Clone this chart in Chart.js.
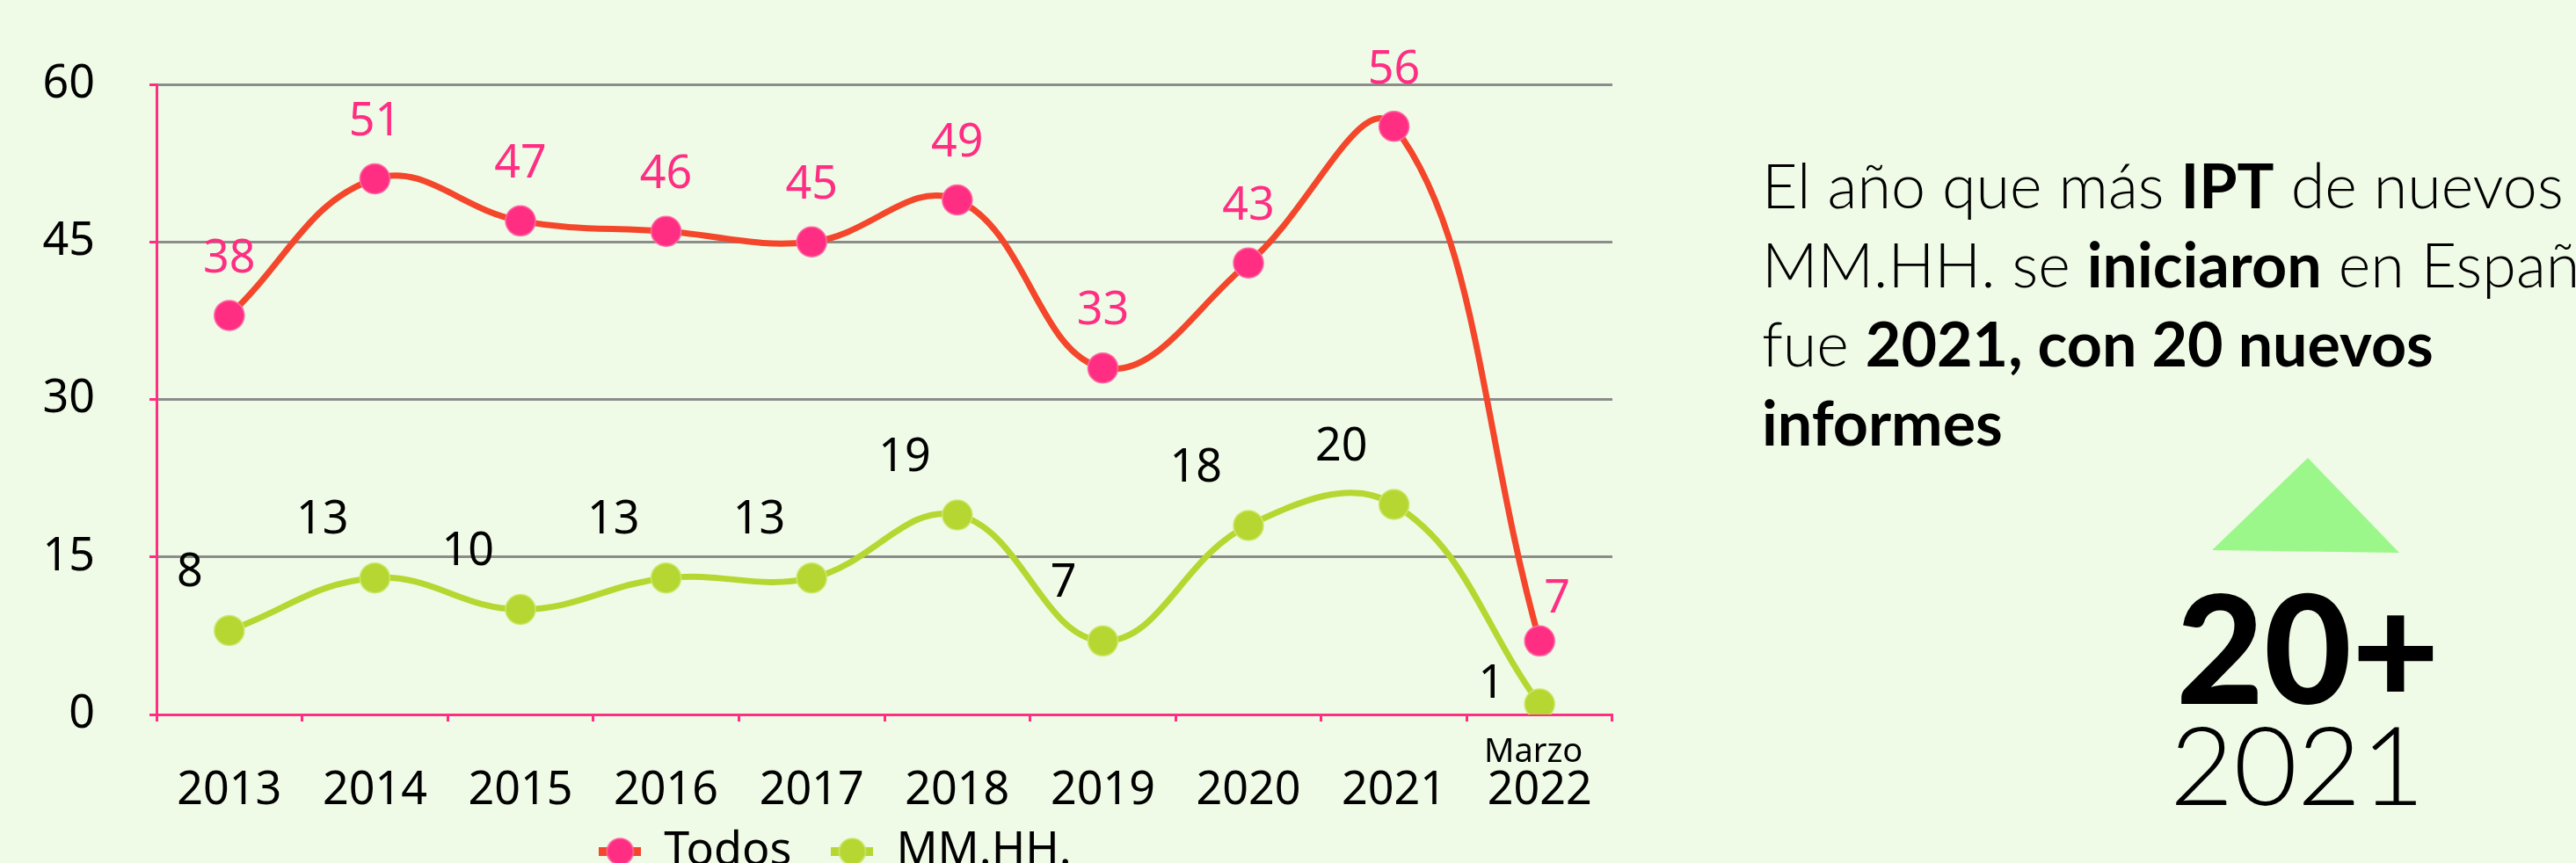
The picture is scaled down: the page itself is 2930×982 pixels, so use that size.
<!DOCTYPE html>
<html lang="es">
<head>
<meta charset="utf-8">
<title>IPT de nuevos MM.HH.</title>
<script src="https://cdn.jsdelivr.net/npm/chart.js@4.4.1/dist/chart.umd.min.js"></script>
<style>
    html, body {
        margin: 0;
        padding: 0;
        width: 2930px;
        height: 982px;
        overflow: hidden;
        background: #effbe6;
    }
    #contenedor {
        position: absolute;
        left: 0;
        top: 0;
        width: 1920px;
        height: 1011px;
    }
    .texto {
        position: absolute;
        left: 2004px;
        top: 165px;
        font-family: Lato, "Noto Sans", sans-serif;
        font-weight: 300;
        font-size: 70px;
        line-height: 90px;
        color: #000;
        white-space: nowrap;
    }
    .texto b { font-weight: 700; }
    .cifra {
        position: absolute;
        left: 2425px;
        width: 400px;
        text-align: center;
        font-family: Lato, "Noto Sans", sans-serif;
        color: #000;
        line-height: 1;
    }
    #cifraGrande { top: 649px; font-size: 172px; font-weight: 900; }
    #cifraAnio { top: 806px; font-size: 125px; font-weight: 300; left: 2413px; }
    #flecha { position: absolute; left: 0; top: 0; }
</style>
</head>
<body>
<div id="contenedor"><canvas id="chartIPT" width="1920" height="1011"></canvas></div>

<div class="texto">
    El año que más <b>IPT</b> de nuevos<br>
    MM.HH. se <b>iniciaron</b> en España<br>
    fue <b>2021, con 20 nuevos</b><br>
    <b>informes</b>
</div>
<svg id="flecha" width="2930" height="982">
    <polygon points="2625,521 2516,626 2729,629" fill="#9cf78b"></polygon>
</svg>
<div class="cifra" id="cifraGrande">20+</div>
<div class="cifra" id="cifraAnio">2021</div>

<script>
// Datos del gráfico
const anios = ['2013', '2014', '2015', '2016', '2017', '2018', '2019', '2020', '2021', '2022'];
const todos = [38, 51, 47, 46, 45, 49, 33, 43, 56, 7];
const mmhh = [8, 13, 10, 13, 13, 19, 7, 18, 20, 1];
const ticksY = [0, 15, 30, 45, 60];
const notaUltimoAnio = 'Marzo';

const ROSA = '#ff2e83';
const ROJO = '#f4462b';
const VERDE = '#b6d731';
const GRIS = '#8c8c8c';
const FUENTE = '"Noto Sans", sans-serif';

// Marcador de la leyenda: línea con punto
function crearMarcador(colorLinea, colorPunto, colorBorde) {
    const c = document.createElement('canvas');
    c.width = 48;
    c.height = 32;
    const ctx = c.getContext('2d');
    ctx.fillStyle = colorLinea;
    ctx.fillRect(0, 11, 48, 10);
    ctx.beginPath();
    ctx.arc(24, 16, 15, 0, Math.PI * 2);
    ctx.fillStyle = colorPunto;
    ctx.fill();
    ctx.lineWidth = 1.5;
    ctx.strokeStyle = colorBorde;
    ctx.stroke();
    return c;
}

const marcadores = [
    crearMarcador(ROJO, ROSA, '#ff6aa5'),
    crearMarcador(VERDE, VERDE, '#cde76f')
];

// Etiquetas de valor sobre los puntos
const etiquetasPlugin = {
    id: 'etiquetas',
    afterLayout(chart) {
        // correr un poco la leyenda a la derecha
        if (chart.legend) {
            chart.legend.left += 22;
            chart.legend.right += 22;
        }
    },
    afterDatasetsDraw(chart) {
        const ctx = chart.ctx;
        ctx.save();
        ctx.font = '52px ' + FUENTE;
        ctx.textBaseline = 'middle';

        chart.data.datasets.forEach((ds, i) => {
            const meta = chart.getDatasetMeta(i);
            meta.data.forEach((pt, j) => {
                const ultimo = j === ds.data.length - 1;
                if (i === 0) {
                    ctx.fillStyle = ROSA;
                    ctx.textAlign = 'center';
                    if (ultimo) ctx.fillText(ds.data[j], pt.x + 20, pt.y - 47);
                    else ctx.fillText(ds.data[j], pt.x, pt.y - 64);
                } else {
                    ctx.fillStyle = '#000';
                    ctx.textAlign = 'right';
                    if (ultimo) ctx.fillText(ds.data[j], pt.x - 40, pt.y - 22);
                    else ctx.fillText(ds.data[j], pt.x - 30, pt.y - 65);
                }
            });
        });

        // "Marzo" encima del último año
        const x = chart.scales.x;
        ctx.font = '38px ' + FUENTE;
        ctx.fillStyle = '#000';
        ctx.textAlign = 'center';
        ctx.fillText(notaUltimoAnio, x.getPixelForTick(anios.length - 1) - 7, x.top + 43);
        ctx.restore();
    }
};

const ctxIPT = document.getElementById('chartIPT').getContext('2d');
const chartIPT = new Chart(ctxIPT, {
    type: 'line',
    data: {
        labels: anios,
        datasets: [
            {
                label: 'Todos',
                data: todos,
                borderColor: ROJO,
                borderWidth: 7,
                pointRadius: 17,
                pointHoverRadius: 17,
                pointBackgroundColor: ROSA,
                pointBorderColor: '#ff6aa5',
                pointBorderWidth: 1.5,
                tension: 0.4,
                fill: false
            },
            {
                label: 'MM.HH.',
                data: mmhh,
                borderColor: VERDE,
                borderWidth: 7,
                pointRadius: 17,
                pointHoverRadius: 17,
                pointBackgroundColor: VERDE,
                pointBorderColor: '#cde76f',
                pointBorderWidth: 1.5,
                tension: 0.4,
                fill: false
            }
        ]
    },
    options: {
        responsive: false,
        animation: false,
        devicePixelRatio: 1,
        layout: {
            padding: { left: 48, right: 86, top: 96, bottom: 6 }
        },
        plugins: {
            tooltip: { enabled: false },
            legend: {
                position: 'bottom',
                labels: {
                    usePointStyle: true,
                    pointStyleWidth: 48,
                    padding: 19,
                    color: '#000',
                    font: { family: FUENTE, size: 52 },
                    generateLabels: chart => chart.data.datasets.map((ds, i) => ({
                        text: ds.label + '\u2002',
                        pointStyle: marcadores[i],
                        fillStyle: ds.borderColor,
                        strokeStyle: 'transparent',
                        lineWidth: 0,
                        fontColor: '#000',
                        hidden: false,
                        datasetIndex: i
                    }))
                }
            }
        },
        scales: {
            x: {
                offset: true,
                afterFit: scale => { scale.height = 111; },
                grid: {
                    offset: true,
                    drawOnChartArea: false,
                    tickColor: ROSA,
                    tickLength: 8,
                    tickWidth: 3
                },
                border: { color: ROSA, width: 3 },
                ticks: {
                    color: '#000',
                    padding: 53,
                    maxRotation: 0,
                    font: { family: FUENTE, size: 52, lineHeight: 1 }
                }
            },
            y: {
                min: 0,
                max: 60,
                afterFit: scale => { scale.width = 130; },
                afterBuildTicks: scale => {
                    scale.ticks = ticksY.map(v => ({ value: v }));
                },
                grid: {
                    color: ctx => ctx.tick && ctx.tick.value === 0 ? 'transparent' : GRIS,
                    lineWidth: 3,
                    tickColor: ROSA,
                    tickLength: 8,
                    tickWidth: 3
                },
                border: { color: ROSA, width: 3 },
                ticks: {
                    color: '#000',
                    padding: 62,
                    font: { family: FUENTE, size: 52 }
                }
            }
        }
    },
    plugins: [etiquetasPlugin]
});
</script>
</body>
</html>
